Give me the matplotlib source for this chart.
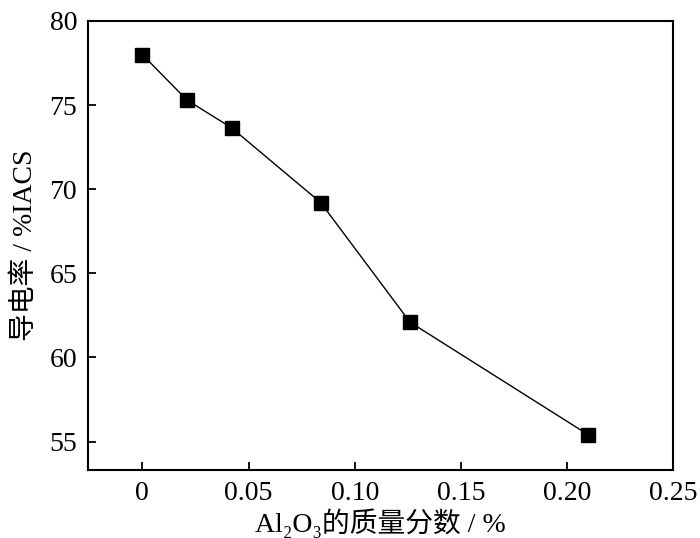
import matplotlib
matplotlib.use('Agg')
from matplotlib import pyplot as plt

# Al2O3 mass fraction (%) vs electrical conductivity (%IACS)
al2o3 = [0, 0.021, 0.042, 0.084, 0.126, 0.21]
conductivity = [78.0, 75.3, 73.65, 69.2, 62.1, 55.4]
xticks = [0, 0.05, 0.10, 0.15, 0.20, 0.25]
xtick_labels = ['0', '0.05', '0.10', '0.15', '0.20', '0.25']
yticks = [55, 60, 65, 70, 75, 80]

plt.rcParams['font.family'] = ['Liberation Serif', 'Noto Sans CJK SC']

fig = plt.figure(figsize=(7, 5.38), dpi=100)
ax = fig.add_axes([0.126, 0.126, 0.836, 0.835])

ax.plot(al2o3, conductivity, color='black', linewidth=1.0,
        marker='s', markersize=10, markerfacecolor='black', markeredgecolor='black')

ax.set_xlim(-0.0255, 0.25)
ax.set_ylim(53.3, 80)
ax.set_xticks(xticks)
ax.set_xticklabels(xtick_labels)
ax.set_yticks(yticks)
ax.tick_params(direction='in', length=6, width=1.3, labelsize=20, top=False, right=False, pad=8)
for s in ax.spines.values():
    s.set_linewidth(1.5)

ax.set_xlabel('Al\u2082O\u2083的质量分数 / %', fontsize=20)
ax.xaxis.set_label_coords(0.5, -0.085)
ax.set_ylabel('导电率 / %IACS', fontsize=20, labelpad=8)

fig.savefig('out.png', dpi=100)
